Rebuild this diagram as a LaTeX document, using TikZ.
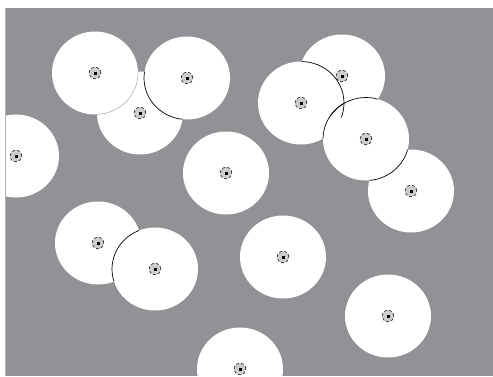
\documentclass[tikz,border=0pt]{standalone}
\begin{document}
\begin{tikzpicture}[x=1pt,y=-1pt,
  disc/.style={fill=white,draw=none},
  rim/.style={draw=black,line width=0.7pt},
  rimlight/.style={draw=gray!70,line width=0.5pt},
  hub/.style={circle,minimum size=11.5pt,inner sep=0pt,fill=gray!40,draw=black!80,line width=0.7pt,densely dashed},
  core/.style={rectangle,minimum size=3pt,inner sep=0pt,fill=black}]
\useasboundingbox (0,0) rectangle (493,376);
\definecolor{bg}{RGB}{145,146,150}
\fill[white] (0,0) rectangle (493,376);
\fill[bg] (5,8) rectangle (493,376);
\def\rx{43}\def\ry{41.5}
\begin{scope}
\clip (5,8) rectangle (493,376);
% list of centres
\coordinate (A) at (95,73);
\coordinate (B) at (187,78);
\coordinate (C) at (140,113);
\coordinate (D) at (16,156);
\coordinate (E) at (226,173);
\coordinate (F) at (342,76);
\coordinate (G) at (301,103);
\coordinate (H) at (366,139);
\coordinate (I) at (411,191);
\coordinate (J) at (98,243);
\coordinate (K) at (155,269);
\coordinate (L) at (283,257);
\coordinate (M) at (388,316);
\coordinate (N) at (240,369);
\foreach \c in {C,A,B,D,E,F,G,I,H,J,K,L,M,N}{
  \fill[disc] (\c) ellipse [x radius=\rx, y radius=\ry];
}
% rims where a disc overlaps the one below
\begin{scope}\clip (C) ellipse [x radius=\rx, y radius=\ry];
  \draw[rimlight] (A) ellipse [x radius=\rx, y radius=\ry];
\end{scope}
\begin{scope}\clip (C) ellipse [x radius=\rx, y radius=\ry];
  \draw[rim] (B) ellipse [x radius=\rx, y radius=\ry];
\end{scope}
\begin{scope}\clip (F) ellipse [x radius=\rx, y radius=\ry];
  \draw[rim] (G) ellipse [x radius=\rx, y radius=\ry];
\end{scope}
\foreach \u in {F,G,I}{
\begin{scope}\clip (\u) ellipse [x radius=\rx, y radius=\ry];
  \draw[rim] (H) ellipse [x radius=\rx, y radius=\ry];
\end{scope}}
\begin{scope}\clip (J) ellipse [x radius=\rx, y radius=\ry];
  \draw[rim] (K) ellipse [x radius=\rx, y radius=\ry];
\end{scope}
\draw[gray!60,line width=0.8pt] (5.4,8) -- (5.4,376);
% hubs
\foreach \c in {A,B,C,D,E,F,G,H,I,J,K,L,M,N}{
  \node[hub] (h\c) at (\c) {};
  \node[core] (k\c) at (\c) {};
}
\end{scope}
\end{tikzpicture}
\end{document}
